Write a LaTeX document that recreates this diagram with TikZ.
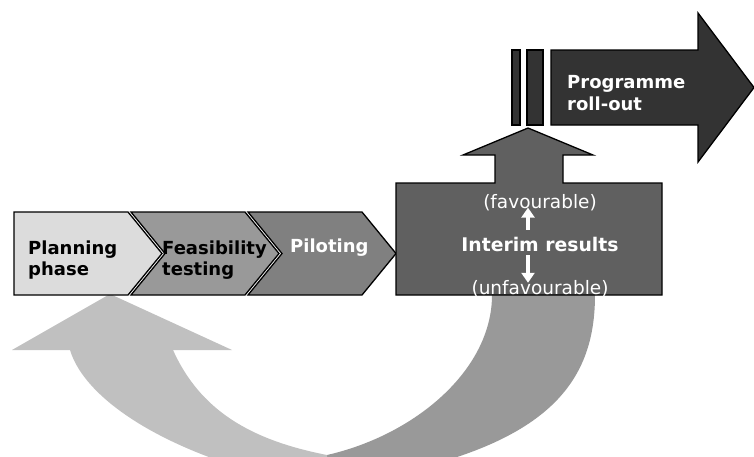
\documentclass[tikz,border=0pt]{standalone}
\usepackage{fontspec}
\setmainfont{DejaVu Sans}
\usetikzlibrary{arrows.meta}
\definecolor{planfill}{HTML}{DCDCDC}
\definecolor{feasfill}{HTML}{999999}
\definecolor{pilotfill}{HTML}{808080}
\definecolor{interimfill}{HTML}{606060}
\definecolor{rollfill}{HTML}{333333}
\definecolor{backlight}{HTML}{C0C0C0}
\definecolor{backdark}{HTML}{999999}
\tikzset{
  stage/.style={draw=black, line width=1.3pt, line join=miter},
  label/.style={inner sep=0pt, font=\fontsize{18}{21}\selectfont\bfseries, align=left},
  note/.style={inner sep=0pt, font=\fontsize{18.5}{21}\selectfont, text=white},
  whitearrow/.style={white, line width=3.5pt, -{Triangle[width=13pt,length=10pt]}}
}
\begin{document}
\begin{tikzpicture}[x=1pt,y=-1pt]
\useasboundingbox (0,0) rectangle (754,456);
\fill[white] (0,0) rectangle (754,456);

% loop back from unfavourable results to planning
\begin{scope}
  \clip (0,0) rectangle (754,456);
  \fill[backdark] (492,295) -- (595,295)
    .. controls (595,390) and (540,455) .. (330,485)
    -- (327,455)
    .. controls (415,435) and (492,370) .. (492,295) -- cycle;
  \fill[backlight] (12,350) -- (110,294) -- (232,350) -- (173,350)
    .. controls (200,410) and (250,440) .. (327,455)
    -- (330,490)
    .. controls (170,460) and (85,400) .. (70,350) -- cycle;
\end{scope}

% stage chevrons
\fill[planfill, stage] (14,212) -- (128,212) -- (162,253.5) -- (128,295) -- (14,295) -- cycle;
\fill[feasfill, stage] (131,212) -- (245,212) -- (279,253.5) -- (245,295) -- (131,295) -- (165,253.5) -- cycle;
\fill[pilotfill, stage] (248,212) -- (362,212) -- (396,253.5) -- (362,295) -- (248,295) -- (282,253.5) -- cycle;

% interim results block with upward arrow
\fill[interimfill, stage] (396,295) -- (396,183) -- (495,183) -- (495,155) -- (463,155)
  -- (528,128) -- (593,155) -- (563,155) -- (563,183) -- (662,183) -- (662,295) -- cycle;

% gate bars and roll-out arrow
\fill[rollfill, stage] (512,50) rectangle (520,125);
\fill[rollfill, stage] (527,50) rectangle (543,125);
\fill[rollfill, stage] (551,50) -- (698,50) -- (698,13) -- (754,87.5) -- (698,162) -- (698,125) -- (551,125) -- cycle;

% texts
\node[label, anchor=west] (plan) at (28,260.5) {Planning\\phase};
\node[label, anchor=west] (feas) at (162,260.5) {Feasibility\\testing};
\node[label, anchor=west, text=white] (pilot) at (290,248) {Piloting};
\node[label, anchor=west, text=white, font=\fontsize{18}{22}\selectfont\bfseries] (roll) at (567,93.5) {Programme\\roll-out};
\node[label, anchor=base, text=white, font=\fontsize{18.8}{21}\selectfont\bfseries] (interim) at (540,251) {Interim results};
\node[note, anchor=base] (fav) at (540,208) {(favourable)};
\node[note, anchor=base] (unfav) at (540,294) {(unfavourable)};

% outcome arrows
\draw[whitearrow, shorten <=7pt, shorten >=-3pt] ([xshift=-12pt]interim.north) -- ([xshift=-12pt]fav.south);
\draw[whitearrow, shorten <=4pt, shorten >=-3pt] ([xshift=-12pt]interim.south) -- ([xshift=-12pt]unfav.north);
\end{tikzpicture}
\end{document}
